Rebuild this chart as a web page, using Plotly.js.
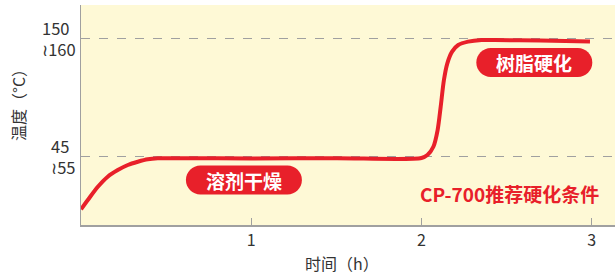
<!DOCTYPE html>
<html>
<head>
<meta charset="utf-8">
<script src="https://cdn.plot.ly/plotly-3.0.1.min.js"></script>
<style>html,body{margin:0;padding:0;background:#fff;}#chart{width:615px;height:274px;}</style>
</head>
<body>
<div id="chart"></div>
<script>
// time (h)
const timeH = [0, 0.040, 0.099, 0.157, 0.216, 0.275, 0.334, 0.392, 0.451, 0.569, 1.0, 1.5, 2.0, 2.035, 2.07, 2.095, 2.113, 2.132, 2.152, 2.18, 2.216, 2.274, 2.353, 2.431, 2.7, 2.99];
// temperature (schematic scale)
const tempC = [3.1, 11.4, 23.2, 32.2, 38.1, 42.6, 45.5, 47.7, 48.6, 48.6, 48.5, 48.7, 48.9, 51.5, 58.9, 73.8, 94.6, 118.4, 133.3, 143.7, 149.6, 152.6, 154.1, 154.1, 153.6, 152.8];

const xTickVals = [1, 2, 3];
const xTickText = ['1', '2', '3'];
const yTickVals = [50, 155];
const yTickLow = ['45', '150'];
const yTickHigh = ['55', '160'];

const stageLabels = ['溶剂干燥', '树脂硬化'];
const stageX = [0.957, 2.663];
const stageY = [29.2, 134.0];
const noteText = 'CP-700推荐硬化条件';
const noteX = 2.519, noteY = 17.6;

const xTitle = '时间（h）';
const yTitle = '温度（°C）';

const RED = '#E8202A';
const FONT = '"Noto Sans CJK SC", "Noto Sans", sans-serif';
const WAVE = '<span style="font-family:\'DejaVu Sans\'">≀</span>';

const pill = 'M-43.5,-14.5L43.5,-14.5C51.5,-14.5 58,-8 58,0C58,8 51.5,14.5 43.5,14.5L-43.5,14.5C-51.5,14.5 -58,8 -58,0C-58,-8 -51.5,-14.5 -43.5,-14.5Z';

const shapes = stageLabels.map((t, i) => ({
  type: 'path', xref: 'x', yref: 'y',
  xsizemode: 'pixel', ysizemode: 'pixel',
  xanchor: stageX[i], yanchor: stageY[i],
  path: pill, fillcolor: RED, line: {width: 0}, layer: 'above'
}));

const annotations = [];
stageLabels.forEach((t, i) => annotations.push({
  x: stageX[i], y: stageY[i], xref: 'x', yref: 'y', text: '<b>' + t + '</b>',
  showarrow: false, font: {family: FONT, size: 19, color: '#ffffff'}, xanchor: 'center', yanchor: 'middle'
}));
annotations.push({
  x: noteX, y: noteY, xref: 'x', yref: 'y', text: '<b>' + noteText + '</b>',
  showarrow: false, font: {family: FONT, size: 19, color: RED}, xanchor: 'center', yanchor: 'middle'
});
yTickVals.forEach((v, i) => annotations.push({
  x: 0, y: v, xref: 'paper', yref: 'y', text: yTickLow[i] + '<br>' + WAVE + yTickHigh[i], align: 'left',
  xanchor: 'right', yanchor: 'middle', xshift: -3, showarrow: false,
  font: {family: FONT, size: 16.5, color: '#333333'}
}));
annotations.push({
  x: 0, y: 0.5636, xref: 'paper', yref: 'paper', text: yTitle, textangle: -90,
  xanchor: 'center', yanchor: 'middle', xshift: -63, showarrow: false,
  font: {family: FONT, size: 16, color: '#333333'}
});
annotations.push({
  x: 0.489, y: 0, xref: 'paper', yref: 'paper', text: xTitle,
  xanchor: 'center', yanchor: 'middle', yshift: -38, showarrow: false,
  font: {family: FONT, size: 16, color: '#333333'}
});

const trace = {
  x: timeH, y: tempC, type: 'scatter', mode: 'lines',
  line: {color: RED, width: 4, shape: 'spline', smoothing: 0.8},
  hoverinfo: 'skip'
};

const layout = {
  width: 615, height: 274,
  margin: {l: 81, r: 0, t: 5, b: 49},
  paper_bgcolor: '#ffffff', plot_bgcolor: '#FEF9D6',
  showlegend: false,
  font: {family: FONT, color: '#333333'},
  xaxis: {
    range: [0, 3.137], tickvals: xTickVals, ticktext: xTickText,
    ticks: 'inside', ticklen: 7, tickcolor: '#a0a0a0', tickwidth: 1,
    showline: true, linecolor: '#a0a0a0', linewidth: 1.5,
    showgrid: false, zeroline: false,
    tickfont: {family: FONT, size: 16, color: '#333333'}, fixedrange: true
  },
  yaxis: {
    range: [-10.9, 185.3], tickvals: yTickVals, showticklabels: false,
    ticks: '', showline: true, linecolor: '#a0a0a0', linewidth: 1.5,
    showgrid: true, gridcolor: '#a0a0a0', gridwidth: 1, griddash: 'dash',
    zeroline: false, fixedrange: true
  },
  shapes: shapes,
  annotations: annotations
};

Plotly.newPlot('chart', [trace], layout, {displayModeBar: false, staticPlot: true});
</script>
</body>
</html>
